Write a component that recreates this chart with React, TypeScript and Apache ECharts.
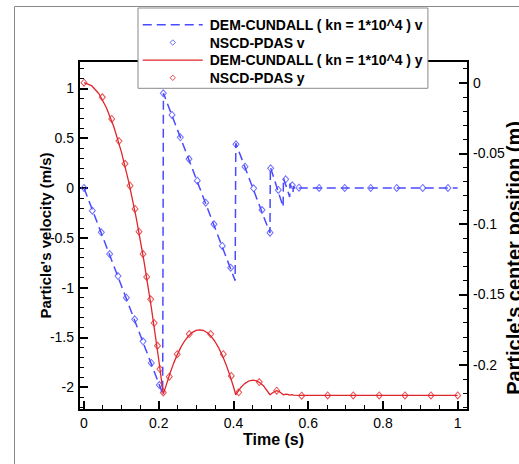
import React, { useEffect, useRef } from 'react';
import * as echarts from 'echarts';

// ---- data ----
// DEM-CUNDALL velocity [time (s), v (m/s)]
const demVelocity: [number, number][] = [
  [0, 0], [0.2105, -2.065], [0.2125, 0.952], [0.4045, -0.93], [0.4062, 0.45],
  [0.4975, -0.452], [0.4988, 0.21], [0.5328, -0.19], [0.5338, 0.1], [0.5505, -0.09],
  [0.5512, 0.045], [0.5595, -0.04], [0.5602, 0.02], [0.5655, -0.015], [0.57, 0], [1, 0],
];

// NSCD-PDAS velocity markers [time (s), v (m/s)]
const nscdVelocity: [number, number][] = [
  [0, 0], [0.0222, -0.228], [0.0463, -0.445], [0.0687, -0.663], [0.091, -0.884],
  [0.1133, -1.101], [0.1356, -1.318], [0.158, -1.539], [0.18, -1.757], [0.2016, -1.978],
  [0.2122, 0.951], [0.2355, 0.733], [0.2577, 0.509], [0.281, 0.291], [0.3032, 0.073],
  [0.3256, -0.148], [0.3478, -0.364], [0.37, -0.582], [0.3925, -0.8],
  [0.4067, 0.439], [0.4308, 0.214], [0.454, -0.003], [0.4763, -0.221], [0.4977, -0.449],
  [0.4995, 0.198], [0.52, -0.02], [0.5397, 0.087], [0.5575, 0.027], [0.5753, 0.003],
  [0.6292, 0], [0.6976, 0], [0.7672, 0], [0.8368, 0], [0.9064, 0], [0.9739, 0],
];

// DEM-CUNDALL centre position [time (s), y (m)]
const demPosition: [number, number][] = [
  [0, 0], [0.02, -0.002], [0.04, -0.0078], [0.06, -0.0177], [0.08, -0.0314],
  [0.1, -0.049], [0.12, -0.0706], [0.14, -0.0961], [0.16, -0.1256], [0.18, -0.1589],
  [0.2, -0.1962], [0.2122, -0.2205], [0.22, -0.2142], [0.23, -0.206], [0.24, -0.1986],
  [0.25, -0.1924], [0.26, -0.1869], [0.27, -0.1826], [0.28, -0.1792], [0.29, -0.1768],
  [0.3, -0.1754], [0.31, -0.175], [0.32, -0.1755], [0.33, -0.1771], [0.34, -0.1796],
  [0.35, -0.1831], [0.36, -0.1876], [0.37, -0.1931], [0.38, -0.1995], [0.39, -0.207],
  [0.4, -0.2153], [0.406, -0.221], [0.413, -0.2184], [0.42, -0.2157], [0.43, -0.2131],
  [0.44, -0.2114], [0.452, -0.2107], [0.46, -0.211], [0.47, -0.2124], [0.48, -0.2146],
  [0.4977, -0.221], [0.507, -0.2192], [0.5155, -0.2181], [0.524, -0.219], [0.5333, -0.221],
  [0.5425, -0.2205], [0.551, -0.2212], [0.556, -0.2209], [0.561, -0.2213], [0.58, -0.2215],
  [1, -0.2215],
];

// NSCD-PDAS centre position markers [time (s), y (m)]
const nscdPosition: [number, number][] = [
  [0, 0], [0.049, -0.0103], [0.0741, -0.0257], [0.0936, -0.0413], [0.1097, -0.0574],
  [0.1231, -0.0729], [0.1365, -0.0894], [0.1472, -0.1055], [0.1579, -0.1213],
  [0.1678, -0.1376], [0.1785, -0.1534], [0.1878, -0.1702], [0.1967, -0.1863],
  [0.2033, -0.2028], [0.2122, -0.2194], [0.2282, -0.2082], [0.2494, -0.1923],
  [0.2817, -0.178], [0.339, -0.178], [0.3727, -0.1923], [0.3941, -0.2077],
  [0.4139, -0.2193], [0.469, -0.212], [0.5156, -0.2181], [0.5825, -0.2217],
  [0.652, -0.2215], [0.7205, -0.2215], [0.79, -0.2215], [0.8589, -0.2215],
  [0.9284, -0.2215], [0.9999, -0.2215],
];

const seriesNames = [
  'DEM-CUNDALL ( kn = 1*10^4 ) v',
  'NSCD-PDAS v',
  'DEM-CUNDALL ( kn = 1*10^4 ) y',
  'NSCD-PDAS y',
];
const axisTitles = { x: 'Time (s)', yLeft: "Particle's velocity (m/s)", yRight: "Particle's center position (m)" };

const BLUE = '#4a4aff';
const RED = '#e0262a';
const FONT = "'Liberation Sans', Arial, Helvetica, sans-serif";
const DIAMOND_ICON = 'path://M0,0M60,14M30,4.3L32.7,7L30,9.7L27.3,7Z';
const LINE_ICON = 'path://M0,0M60,14M0,7L60,7';

export default function App() {
  const ref = useRef<HTMLDivElement>(null);
  useEffect(() => {
    const chart = echarts.init(ref.current!, null, { renderer: 'svg' });
    const axisCommon = {
      axisLine: { show: true, onZero: false, lineStyle: { color: '#000', width: 2 } },
      axisTick: { show: true, inside: true, length: 9, lineStyle: { color: '#000', width: 2 } },
      minorTick: { show: true, length: 5, lineStyle: { color: '#000', width: 1 } },
      splitLine: { show: false },
      axisLabel: { color: '#000', fontSize: 14, fontFamily: FONT, showMinLabel: false, showMaxLabel: false },
      nameMoveOverlap: false,
    };
    chart.setOption({
      animation: false,
      backgroundColor: '#fff',
      textStyle: { fontFamily: FONT },
      graphic: [
        {
          type: 'rect', left: 12, top: 4, z: -10, silent: true,
          shape: { width: 600, height: 600 },
          style: { fill: 'none', stroke: '#8a8a8a', lineWidth: 1 },
        },
      ],
      grid: {
        left: 79, right: 51, top: 61, bottom: 54,
        containLabel: false, outerBoundsMode: 'none',
        show: true, borderColor: '#000', borderWidth: 2, backgroundColor: 'transparent',
      },
      legend: {
        orient: 'vertical', left: 138, top: 8,
        padding: [9, 5, 3, 4], itemGap: 2.5, itemWidth: 60, itemHeight: 14,
        backgroundColor: '#fff', borderColor: '#8a8a8a', borderWidth: 1, borderRadius: 0,
        textStyle: { color: '#000', fontSize: 14, fontWeight: 'bold', fontFamily: FONT, padding: [0, 0, 0, 2] },
        data: [
          { name: seriesNames[0], icon: LINE_ICON, itemStyle: { color: 'transparent', borderColor: BLUE, borderWidth: 1.5, borderType: [9, 5] } },
          { name: seriesNames[1], icon: DIAMOND_ICON, itemStyle: { color: 'transparent', borderColor: BLUE, borderWidth: 1 } },
          { name: seriesNames[2], icon: LINE_ICON, itemStyle: { color: 'transparent', borderColor: RED, borderWidth: 1.3 } },
          { name: seriesNames[3], icon: DIAMOND_ICON, itemStyle: { color: 'transparent', borderColor: RED, borderWidth: 1 } },
        ],
      },
      xAxis: {
        type: 'value', min: -0.0134, max: 1.0276, splitNumber: 5, minInterval: 0.2, maxInterval: 0.2,
        ...axisCommon,
        minorTick: { ...axisCommon.minorTick, splitNumber: 4 },
        axisLabel: { ...axisCommon.axisLabel, margin: 6 },
        name: axisTitles.x, nameLocation: 'middle', nameGap: 21,
        nameTextStyle: { color: '#000', fontSize: 16, fontWeight: 'bold', fontFamily: FONT },
      },
      yAxis: [
        {
          type: 'value', position: 'left', min: -2.229, max: 1.275, minInterval: 0.5, maxInterval: 0.5,
          ...axisCommon,
          minorTick: { ...axisCommon.minorTick, splitNumber: 5 },
          axisLabel: { ...axisCommon.axisLabel, margin: 5 },
          name: axisTitles.yLeft, nameLocation: 'middle', nameGap: 26,
          nameTextStyle: { color: '#000', fontSize: 15, fontWeight: 'bold', fontFamily: FONT },
        },
        {
          type: 'value', position: 'right', min: -0.2318, max: 0.01537, minInterval: 0.05, maxInterval: 0.05,
          ...axisCommon,
          minorTick: { ...axisCommon.minorTick, splitNumber: 5 },
          axisLabel: { ...axisCommon.axisLabel, margin: 5, fontSize: 14 },
          name: axisTitles.yRight, nameLocation: 'middle', nameGap: 36,
          nameTextStyle: { color: '#000', fontSize: 20, fontWeight: 'bold', fontFamily: FONT, padding: [0, 45, 0, 0] },
        },
      ],
      series: [
        {
          name: seriesNames[0], type: 'line', yAxisIndex: 0, data: demVelocity,
          symbol: 'none', lineStyle: { color: BLUE, width: 1.5, type: [9, 5] }, itemStyle: { color: BLUE },
        },
        {
          name: seriesNames[1], type: 'scatter', yAxisIndex: 0, data: nscdVelocity,
          symbol: 'diamond', symbolSize: [6, 7],
          itemStyle: { color: 'transparent', borderColor: BLUE, borderWidth: 1 },
        },
        {
          name: seriesNames[2], type: 'line', yAxisIndex: 1, data: demPosition,
          symbol: 'none', lineStyle: { color: RED, width: 1.3 }, itemStyle: { color: RED },
        },
        {
          name: seriesNames[3], type: 'scatter', yAxisIndex: 1, data: nscdPosition,
          symbol: 'diamond', symbolSize: [6, 7],
          itemStyle: { color: 'transparent', borderColor: RED, borderWidth: 1 },
        },
      ],
    });
    return () => chart.dispose();
  }, []);
  return (
    <div
      ref={ref}
      style={{ position: 'fixed', left: 0, top: 0, width: 519, height: 464, background: '#fff' }}
    />
  );
}
